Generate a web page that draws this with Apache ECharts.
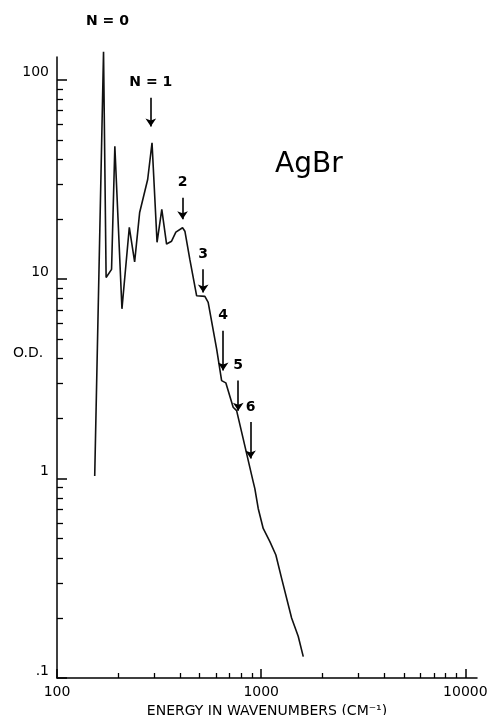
<!DOCTYPE html>
<html lang="en">
<head>
    <meta charset="UTF-8">
    <title>AgBr O.D. vs energy</title>
    <script src="https://cdn.jsdelivr.net/npm/echarts@6/dist/echarts.min.js"></script>
    <style>
        body, html {
            margin: 0;
            padding: 0;
            width: 100%;
            height: 100%;
            background-color: #fff;
        }
        #main {
            width: 489px;
            height: 715px;
        }
    </style>
</head>
<body>
    <div id="main"></div>
    <script>
        // energy (cm-1) and optical density
        const energy = [153, 169, 174, 185, 192, 208, 226, 240, 254, 278, 292, 309, 326, 344, 364, 382, 412, 423, 447, 483, 530, 550, 605, 640, 671, 729, 758, 816, 914, 931, 967, 1023, 1103, 1180, 1259, 1409, 1518, 1607];
        const od = [1.03, 138, 10.2, 11.2, 46.4, 7.1, 18.2, 12.2, 21.6, 31.6, 48.3, 15.3, 22.4, 15.0, 15.5, 17.2, 18.1, 17.4, 12.6, 8.25, 8.2, 7.65, 4.47, 3.10, 3.02, 2.28, 2.19, 1.585, 0.963, 0.891, 0.708, 0.562, 0.483, 0.414, 0.316, 0.2, 0.162, 0.128];

        // arrows: label, energy, top and bottom O.D.
        const arrowNames = ['N = 1', '2', '3', '4', '5', '6'];
        const arrowX = [288, 412, 520, 651, 772, 887];
        const arrowTop = [81.3, 25.6, 11.2, 5.51, 3.10, 1.92];
        const arrowBottom = [58.2, 19.95, 8.58, 3.48, 2.19, 1.26];

        // axis ticks
        const xMajor = [100, 1000, 10000];
        const xMinor = [200, 300, 400, 500, 600, 700, 800, 900, 2000, 3000, 4000, 5000, 6000, 7000, 8000, 9000];
        const yMajor = [0.1, 1, 10, 100];
        const yMinor = [0.2, 0.3, 0.4, 0.5, 0.6, 0.7, 0.8, 0.9, 2, 3, 4, 5, 6, 7, 8, 9, 20, 30, 40, 50, 60, 70, 80, 90];

        const font = 'DejaVu Sans';
        const xRange = [100, 11400];
        const yRange = [0.1, 130];

        var myChart = echarts.init(document.getElementById('main'));

        const baseAxis = {
            type: 'log',
            logBase: 10,
            splitLine: { show: false },
            axisLine: { show: true, lineStyle: { color: '#000', width: 1.5 } }
        };

        const option = {
            backgroundColor: '#fff',
            animation: false,
            grid: { left: 57, right: 12, top: 57, bottom: 37, outerBoundsMode: 'none' },
            xAxis: [
                Object.assign({}, baseAxis, {
                    min: xRange[0], max: xRange[1],
                    position: 'bottom',
                    name: 'ENERGY IN WAVENUMBERS (CM\u207B\u00B9)',
                    nameLocation: 'middle',
                    nameGap: 22,
                    nameTextStyle: { color: '#000', fontFamily: font, fontSize: 14 },
                    axisTick: { inside: true, length: 9, customValues: xMajor, lineStyle: { color: '#000', width: 1.5 } },
                    axisLabel: { customValues: xMajor, color: '#000', fontFamily: font, fontSize: 14, margin: 7,
                        formatter: v => String(Math.round(v)) }
                }),
                Object.assign({}, baseAxis, {
                    min: xRange[0], max: xRange[1],
                    position: 'bottom',
                    axisLine: { show: false },
                    axisTick: { inside: true, length: 5, customValues: xMinor, lineStyle: { color: '#000', width: 1.3 } },
                    axisLabel: { show: false }
                })
            ],
            yAxis: [
                Object.assign({}, baseAxis, {
                    min: yRange[0], max: yRange[1],
                    position: 'left',
                    axisTick: { inside: true, length: 10, customValues: yMajor, lineStyle: { color: '#000', width: 1.5 } },
                    axisLabel: { customValues: yMajor, color: '#000', fontFamily: font, fontSize: 14, margin: 8,
                        verticalAlign: 'bottom', lineHeight: 14,
                        formatter: v => v < 1 ? '.1' : String(Math.round(v)) }
                }),
                Object.assign({}, baseAxis, {
                    min: yRange[0], max: yRange[1],
                    position: 'left',
                    axisLine: { show: false },
                    axisTick: { inside: true, length: 6, customValues: yMinor, lineStyle: { color: '#000', width: 1.3 } },
                    axisLabel: { show: false }
                })
            ],
            series: [{
                type: 'line',
                clip: false,
                symbol: 'none',
                lineStyle: { color: '#111', width: 1.6 },
                data: energy.map((e, i) => [e, od[i]]),
                markLine: {
                    silent: true,
                    symbol: ['none', 'arrow'],
                    symbolSize: 8,
                    lineStyle: { color: '#000', width: 1.6, type: 'solid' },
                    label: {
                        position: 'start',
                        distance: 8,
                        formatter: '{b}',
                        color: '#000',
                        fontFamily: font,
                        fontWeight: 'bold',
                        fontSize: 14
                    },
                    data: arrowNames.map((n, i) => [
                        { name: n, coord: [arrowX[i], arrowTop[i]] },
                        { coord: [arrowX[i], arrowBottom[i]] }
                    ])
                }
            }],
            graphic: [
                { type: 'text', left: 86, top: 14, style: { text: 'N = 0', fill: '#000', font: 'bold 14px "DejaVu Sans"' } },
                { type: 'text', left: 275, top: 151, style: { text: 'AgBr', fill: '#000', font: '28px "DejaVu Sans"' } },
                { type: 'text', left: 13, top: 346, style: { text: 'O.D.', fill: '#000', font: '14px "DejaVu Sans"' } }
            ]
        };

        myChart.setOption(option);
    </script>
</body>
</html>
